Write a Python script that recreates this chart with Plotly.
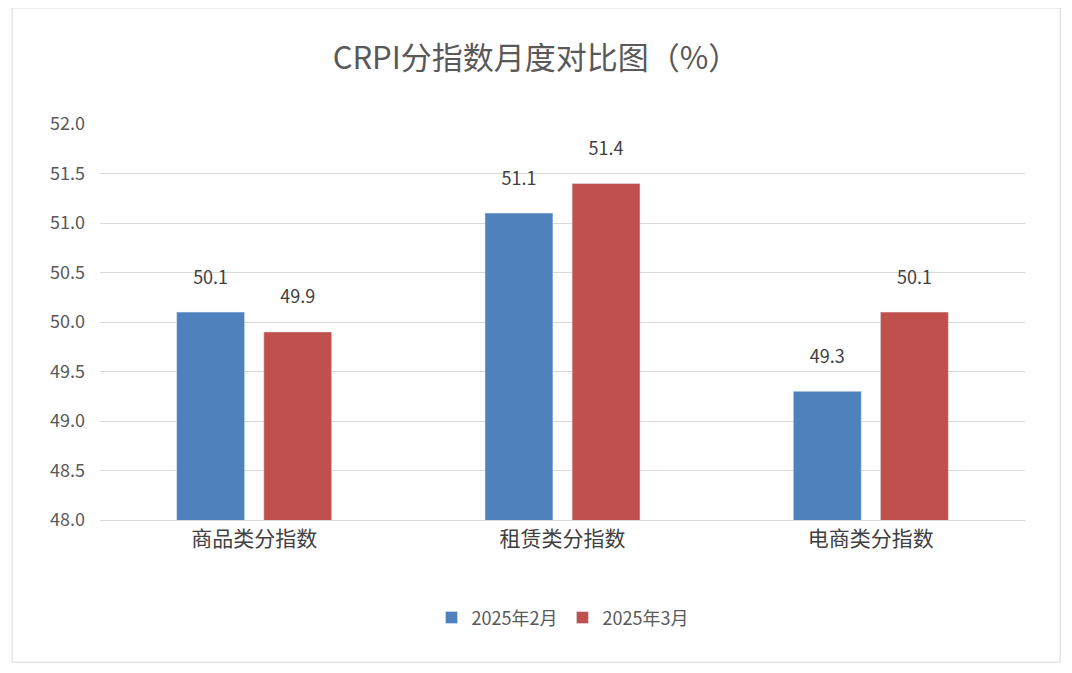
import plotly.graph_objects as go

categories = ["商品类分指数", "租赁类分指数", "电商类分指数"]
feb_values = [50.1, 51.1, 49.3]
mar_values = [49.9, 51.4, 50.1]
series_names = ["2025年2月", "2025年3月"]

font = "Noto Sans CJK SC"
fig = go.Figure()
for name, vals, color in [
    (series_names[0], feb_values, "#4F81BD"),
    (series_names[1], mar_values, "#C0504D"),
]:
    fig.add_trace(go.Bar(
        x=categories, y=vals, name=name, marker_color=color,
        text=[f"{v:.1f}<br><span style='font-size:8px'> </span>" for v in vals],
        textposition="outside",
        textfont=dict(size=18, color="#404040"), cliponaxis=False,
    ))

fig.update_layout(
    width=1056, height=657,
    paper_bgcolor="white", plot_bgcolor="white",
    font=dict(family=font, color="#595959"),
    title=dict(text="CRPI分指数月度对比图（%）", x=0.5, xanchor="center",
               y=0.924, yanchor="middle", font=dict(size=31, color="#595959")),
    margin=dict(l=92, r=39, t=116, b=145),
    barmode="group", bargap=0.435, bargroupgap=0.22,
    showlegend=True,
    legend=dict(orientation="h", x=0.5, xanchor="center", y=-0.247, yanchor="middle",
                font=dict(size=18, color="#595959")),
    yaxis=dict(range=[48, 52], dtick=0.5, tickformat=".1f", showgrid=True,
               gridcolor="#D9D9D9", zeroline=False, showline=False,
               tickfont=dict(size=18, color="#595959"), ticks="", ticklabelstandoff=14),
    xaxis=dict(showline=True, linecolor="#D9D9D9", ticks="",
               tickfont=dict(size=21, color="#404040")),
)
fig.add_shape(type="rect", xref="paper", yref="paper",
              x0=-0.095, x1=1.038, y0=-0.359, y1=1.293,
              line=dict(color="#D9D9D9", width=1))
fig.write_html("out.html")
